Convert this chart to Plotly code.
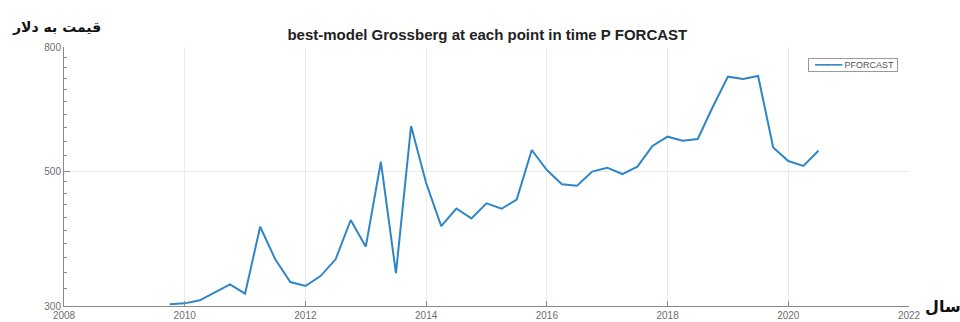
import numpy as np
import plotly.graph_objects as go

# Quarterly forecast price (USD), 2009 Q4 .. 2020 Q3
years = [2009.75 + 0.25 * i for i in range(44)]
pforcast = [
    302, 303, 306.5, 316, 325.7, 314.3, 405, 358, 328.5, 323.6,
    336, 358, 415.5, 375.6, 518, 339.6, 593, 478, 406, 434,
    418, 442.6, 433.6, 449, 541.6, 502, 475.7, 473, 499, 506.5,
    494.5, 508.4, 550, 569.6, 561, 564.6, 638, 715, 709, 717,
    547, 519.5, 510, 540,
]

x_ticks = list(range(2008, 2023, 2))
y_ticks = [300, 500, 800]
y_minor = list(range(320, 500, 20)) + list(range(530, 800, 30))

title_text = "best-model Grossberg at each point in time P FORCAST"
y_title = "قیمت به دلار"
x_title = "سال"
series_name = "PFORCAST"

line_blue = "#2f86c6"
axis_grey = "#8a8a8a"
tick_grey = "#6e6e6e"
grid_grey = "#ebebeb"
y_range = [np.log10(300), np.log10(800)]

fig = go.Figure()
fig.add_trace(go.Scatter(
    x=years, y=pforcast, mode="lines", name=series_name,
    line=dict(color=line_blue, width=2), showlegend=False,
))

fig.update_layout(
    width=960, height=322,
    margin=dict(l=64, r=51, t=47, b=16),
    paper_bgcolor="white", plot_bgcolor="white",
    font=dict(family="Liberation Sans, Arial, sans-serif", color=tick_grey),
    title=dict(
        text=title_text, x=0.501, xref="paper", y=1 - 35 / 322, yref="container",
        xanchor="center", yanchor="middle",
        font=dict(family="Liberation Sans, Arial, sans-serif", size=15, color="#222222", weight="bold"),
    ),
    showlegend=False,
    xaxis=dict(
        range=[2008, 2022], tickmode="array", tickvals=x_ticks,
        ticks="inside", ticklen=5, tickcolor=axis_grey, tickwidth=1,
        showline=True, linecolor=axis_grey, linewidth=1,
        showgrid=True, gridcolor=grid_grey, gridwidth=1, zeroline=False,
        tickfont=dict(size=10, color=tick_grey), automargin=False,
    ),
    yaxis=dict(
        type="log", range=y_range,
        tickmode="array", tickvals=y_ticks, ticktext=[str(v) for v in y_ticks],
        ticks="inside", ticklen=6, tickcolor=axis_grey, tickwidth=1,
        showline=True, linecolor=axis_grey, linewidth=1,
        showgrid=True, gridcolor=grid_grey, gridwidth=1, zeroline=False,
        tickfont=dict(size=10, color=tick_grey), automargin=False,
        minor=dict(tickmode="array", tickvals=y_minor, ticks="inside", ticklen=3,
                   tickcolor=axis_grey, tickwidth=1, showgrid=False),
    ),
)

# compact boxed legend
legend_text = (
    f"  <span style='color:{line_blue};font-family:DejaVu Sans'>━━━━━</span>"
    f"<span style='color:#555555'> {series_name} </span>"
)
fig.add_annotation(
    text=legend_text, xref="paper", yref="paper", x=(808 - 64) / 845, y=(306 - 58) / 259,
    xanchor="left", yanchor="top", showarrow=False, align="left",
    font=dict(family="Liberation Sans, Arial, sans-serif", size=9),
    bgcolor="white", bordercolor="#9a9a9a", borderwidth=1, borderpad=1,
)

fig.add_annotation(
    text=y_title, xref="paper", yref="paper", x=(10 - 64) / 845, y=1.077,
    xanchor="left", yanchor="middle", showarrow=False,
    font=dict(family="DejaVu Sans", size=14, color="#111111", weight="bold"),
)
fig.add_annotation(
    text=x_title, xref="paper", yref="paper", x=(943 - 64) / 845, y=0.0,
    xanchor="center", yanchor="middle", showarrow=False,
    font=dict(family="DejaVu Sans", size=16, color="#111111", weight="bold"),
)

fig.write_html("out.html")
